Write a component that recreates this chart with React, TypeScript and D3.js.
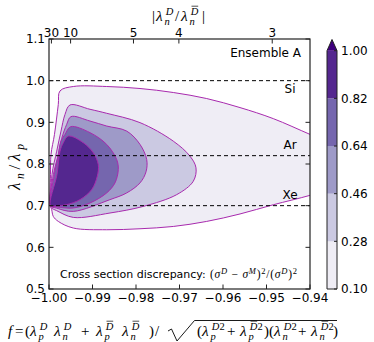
import React from "react";
import * as d3 from "d3";

// contour levels and colours (Purples, extend max)
const levels = [0.1, 0.28, 0.46, 0.64, 0.82, 1.0];
const bandColors = ["#efedf5", "#cbc9e2", "#9e9ac8", "#7566ae", "#54278f"];
const overColor = "#3f007d";

// contour outlines: [f, lambda_n/lambda_p]
const contour010: [number, number][] = [
  [-0.99966, 0.7], [-0.99966, 0.775], [-0.99954, 0.823], [-0.99874, 0.871],
  [-0.99786, 0.943], [-0.99747, 0.9754], [-0.99441, 0.986], [-0.98674, 0.986],
  [-0.97908, 0.9812], [-0.97142, 0.9716], [-0.96375, 0.9571], [-0.95609, 0.9354],
  [-0.94844, 0.9089], [-0.94, 0.8711], [-0.934, 0.845], [-0.931, 0.8],
  [-0.934, 0.745], [-0.94, 0.7248], [-0.94844, 0.7022], [-0.95609, 0.6801],
  [-0.96375, 0.6622], [-0.97142, 0.6501], [-0.97908, 0.6446], [-0.98674, 0.6422],
  [-0.99441, 0.6463], [-0.99786, 0.6622], [-0.99901, 0.6742], [-0.99938, 0.6904],
];
const contour028: [number, number][] = [
  [-0.99966, 0.7], [-0.99931, 0.775], [-0.99823, 0.8308], [-0.99724, 0.879],
  [-0.99632, 0.919], [-0.99517, 0.9417], [-0.99057, 0.9313], [-0.98674, 0.9217],
  [-0.97908, 0.8993], [-0.97143, 0.8549], [-0.96759, 0.8188], [-0.96621, 0.7908],
  [-0.96683, 0.7586], [-0.97064, 0.7265], [-0.97832, 0.6983], [-0.98598, 0.6824],
  [-0.99441, 0.6718], [-0.99823, 0.688], [-0.99954, 0.6952],
];
const contour046: [number, number][] = [
  [-0.99966, 0.7], [-0.99897, 0.775], [-0.99786, 0.8229], [-0.99708, 0.8614],
  [-0.99593, 0.8952], [-0.99494, 0.9137], [-0.99057, 0.9031], [-0.98674, 0.8911],
  [-0.98214, 0.879], [-0.97908, 0.847], [-0.97754, 0.8108], [-0.9777, 0.7812],
  [-0.97908, 0.7547], [-0.98214, 0.7306], [-0.98598, 0.7145], [-0.99441, 0.6863],
  [-0.99823, 0.694],
];
const contour064: [number, number][] = [
  [-0.99966, 0.7], [-0.99874, 0.775], [-0.99786, 0.8229], [-0.99724, 0.8551],
  [-0.99632, 0.8711], [-0.99501, 0.8896], [-0.99057, 0.8752], [-0.98674, 0.847],
  [-0.98444, 0.8108], [-0.98407, 0.7867], [-0.98483, 0.7547], [-0.98674, 0.7306],
  [-0.99057, 0.7065], [-0.99441, 0.6945], [-0.99823, 0.6969],
];
const contour082: [number, number][] = [
  [-0.99966, 0.7], [-0.99816, 0.775], [-0.99747, 0.8308], [-0.99671, 0.8511],
  [-0.99556, 0.867], [-0.99211, 0.8511], [-0.98982, 0.827], [-0.98867, 0.7988],
  [-0.9889, 0.7706], [-0.99018, 0.7386], [-0.99287, 0.7145], [-0.99593, 0.7024],
  [-0.99823, 0.6993],
];
const contours = [contour010, contour028, contour046, contour064, contour082];

// reference nuclei lines
const nucleiNames = ["Si", "Ar", "Xe"];
const nucleiValues = [1.0, 0.82, 0.7];

// axis ticks
const xTicks = [-1.0, -0.99, -0.98, -0.97, -0.96, -0.95, -0.94];
const yTicks = [0.5, 0.6, 0.7, 0.8, 0.9, 1.0, 1.1];
const topTicks = [30, 10, 5, 4, 3];

const W = 374;
const H = 342;
const m = { left: 49, right: 310, top: 39, bottom: 289 };

const x = d3.scaleLinear().domain([-1.0, -0.94]).range([m.left, m.right]);
const y = d3.scaleLinear().domain([0.5, 1.1]).range([m.bottom, m.top]);
const cbY = d3.scaleLinear().domain([0.1, 1.0]).range([289, 50.7]);
const cbX0 = 327;
const cbX1 = 337;

const line = d3
  .line<[number, number]>()
  .x((d) => x(d[0]))
  .y((d) => y(d[1]))
  .curve(d3.curveCatmullRomClosed.alpha(0.5));

const sans = "DejaVu Sans, sans-serif";
const serif = "Liberation Serif, DejaVu Serif, serif";
const lineColor = "#a82aae";
const frameColor = "#222";
const minus = (v: number) => (v < 0 ? "\u2212" + Math.abs(v).toFixed(2) : v.toFixed(2));

// lambda with stacked sub / superscript, placed at (x0, y0)
const Lam = ({ x0, y0, sub, sup, bar }: { x0: number; y0: number; sub: string; sup: string; bar?: boolean }) => (
  <g fontFamily={serif} fontStyle="italic">
    <text x={x0} y={y0} fontSize={15.5}>λ</text>
    <text x={x0 + 8.6} y={y0 + 3.5} fontSize={10.5}>{sub}</text>
    <text x={x0 + 9.8} y={y0 - 6} fontSize={10.5}>
      D{sup.length > 1 ? <tspan fontStyle="normal">{sup.slice(1)}</tspan> : null}
    </text>
    {bar ? <line x1={x0 + 10.5} x2={x0 + 17.2} y1={y0 - 14.8} y2={y0 - 14.8} stroke="#000" strokeWidth={0.7} /> : null}
  </g>
);

const Txt = ({ x0, y0, s, italic }: { x0: number; y0: number; s: string; italic?: boolean }) => (
  <text x={x0} y={y0} fontFamily={serif} fontSize={15} fontStyle={italic ? "italic" : "normal"}>{s}</text>
);

const App = () => {
  const topX = (r: number) => x(-r / Math.sqrt(r * r + 1));
  const tl = 4.5;
  const fy = 336;
  return (
    <svg width={W} height={H} style={{ position: "absolute", left: 0, top: 0 }}>
      <defs>
        <clipPath id="plotClip">
          <rect x={m.left} y={m.top} width={m.right - m.left} height={m.bottom - m.top} />
        </clipPath>
      </defs>
      <rect width={W} height={H} fill="#fff" />
      <g clipPath="url(#plotClip)">
        {contours.map((c, i) => (
          <path key={i} d={line(c) || ""} fill={bandColors[i]} stroke={lineColor} strokeWidth={1} />
        ))}
        {nucleiValues.map((v, i) => (
          <line key={i} x1={m.left} x2={m.right} y1={y(v)} y2={y(v)} stroke="#000"
            strokeWidth={1} strokeDasharray="4,3" />
        ))}
      </g>
      {nucleiNames.map((n, i) => (
        <text key={n} x={290} y={y(nucleiValues[i]) + [12.5, -6.5, -6.5][i]} fontFamily={sans}
          fontSize={12} textAnchor="middle">{n}</text>
      ))}
      <text x={301} y={57} fontFamily={sans} fontSize={12} textAnchor="end">Ensemble A</text>

      {/* frame and ticks */}
      <rect x={m.left} y={m.top} width={m.right - m.left} height={m.bottom - m.top} fill="none"
        stroke={frameColor} strokeWidth={1.2} />
      {xTicks.map((t) => (
        <g key={"x" + t}>
          <line x1={x(t)} x2={x(t)} y1={m.bottom} y2={m.bottom - tl} stroke={frameColor} />
          <text x={x(t)} y={301.5} fontFamily={sans} fontSize={12} textAnchor="middle">{minus(t)}</text>
        </g>
      ))}
      {yTicks.map((t) => (
        <g key={"y" + t}>
          <line x1={m.left} x2={m.left + tl} y1={y(t)} y2={y(t)} stroke={frameColor} />
          <line x1={m.right} x2={m.right - tl} y1={y(t)} y2={y(t)} stroke={frameColor} />
          <text x={45} y={y(t) + 4.3} fontFamily={sans} fontSize={12} textAnchor="end">{t.toFixed(1)}</text>
        </g>
      ))}
      {topTicks.map((t) => (
        <g key={"t" + t}>
          <line x1={topX(t)} x2={topX(t)} y1={m.top} y2={m.top + tl} stroke={frameColor} />
          <text x={topX(t)} y={36.5} fontFamily={sans} fontSize={12} textAnchor="middle">{t}</text>
        </g>
      ))}

      {/* top axis label */}
      <Txt x0={152} y0={21} s="|" />
      <Lam x0={156} y0={21} sub="n" sup="D" />
      <Txt x0={175} y0={21} s="/" />
      <Lam x0={181} y0={21} sub="n" sup="D" bar />
      <Txt x0={202} y0={21} s="|" />

      {/* y axis label */}
      <text transform="translate(20,190) rotate(-90)" fontFamily={serif} fontSize={17}
        fontStyle="italic" textLength={46} lengthAdjust="spacing">
        <tspan>λ</tspan>
        <tspan fontSize={11.5} baselineShift={-3.5}>n</tspan>
        <tspan fontStyle="normal">/</tspan>
        <tspan>λ</tspan>
        <tspan fontSize={11.5} baselineShift={-3.5}>p</tspan>
      </text>

      {/* cross section note */}
      <text x={60} y={278} fontFamily={sans} fontSize={11}>Cross section discrepancy:</text>
      <text x={210} y={278} fontFamily={serif} fontSize={11.5} fontStyle="italic"
        textLength={87} lengthAdjust="spacing">
        <tspan fontStyle="normal">(</tspan>σ
        <tspan fontSize={8.5} baselineShift={4.5}>D</tspan>
        <tspan fontStyle="normal"> − </tspan>σ
        <tspan fontSize={8.5} baselineShift={4.5}>M</tspan>
        <tspan fontStyle="normal">)</tspan>
        <tspan fontSize={8.5} baselineShift={4.5} fontStyle="normal">2</tspan>
        <tspan fontStyle="normal">/(</tspan>σ
        <tspan fontSize={8.5} baselineShift={4.5}>D</tspan>
        <tspan fontStyle="normal">)</tspan>
        <tspan fontSize={8.5} baselineShift={4.5} fontStyle="normal">2</tspan>
      </text>

      {/* colour bar */}
      {bandColors.map((c, i) => (
        <rect key={c} x={cbX0} width={cbX1 - cbX0} y={cbY(levels[i + 1])}
          height={cbY(levels[i]) - cbY(levels[i + 1])} fill={c} />
      ))}
      <path d={`M${cbX0},${cbY(1.0)} L${(cbX0 + cbX1) / 2},39.5 L${cbX1},${cbY(1.0)} Z`} fill={overColor} />
      <path d={`M${cbX0},${cbY(1.0)} L${(cbX0 + cbX1) / 2},39.5 L${cbX1},${cbY(1.0)} L${cbX1},${cbY(0.1)} L${cbX0},${cbY(0.1)} Z`}
        fill="none" stroke={frameColor} strokeWidth={1} />
      {levels.map((l) => (
        <g key={"c" + l}>
          <line x1={cbX1} x2={cbX1 - 3} y1={cbY(l)} y2={cbY(l)} stroke={frameColor} />
          <text x={341} y={cbY(l) + 4.3} fontFamily={sans} fontSize={12}>{l.toFixed(2)}</text>
        </g>
      ))}

      {/* x axis label */}
      <Txt x0={8} y0={fy} s="f" italic />
      <Txt x0={15} y0={fy} s="=" />
      <Txt x0={25} y0={fy} s="(" />
      <Lam x0={30} y0={fy} sub="p" sup="D" />
      <Lam x0={54} y0={fy} sub="n" sup="D" />
      <Txt x0={81} y0={fy} s="+" />
      <Lam x0={96} y0={fy} sub="p" sup="D" bar />
      <Lam x0={122} y0={fy} sub="n" sup="D" bar />
      <Txt x0={149} y0={fy} s=")" />
      <Txt x0={155} y0={fy} s="/" />
      <path d="M168,331 L171.5,329 L177,341 L194.5,320.5 L337,320.5" fill="none" stroke="#000"
        strokeWidth={0.9} strokeLinejoin="miter" />
      <Txt x0={197} y0={fy} s="(" />
      <Lam x0={202} y0={fy} sub="p" sup="D2" />
      <Txt x0={227} y0={fy} s="+" />
      <Lam x0={240} y0={fy} sub="p" sup="D2" bar />
      <Txt x0={264} y0={fy} s=")(" />
      <Lam x0={274} y0={fy} sub="n" sup="D2" />
      <Txt x0={298} y0={fy} s="+" />
      <Lam x0={311} y0={fy} sub="n" sup="D2" bar />
      <Txt x0={333} y0={fy} s=")" />
    </svg>
  );
};

export default App;
